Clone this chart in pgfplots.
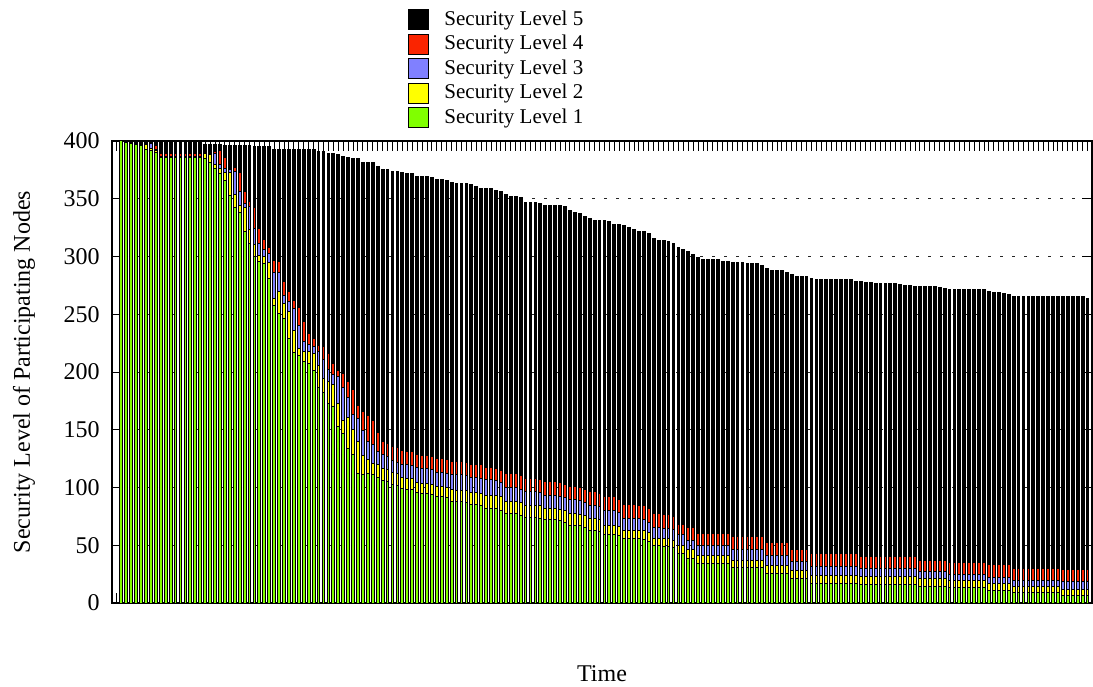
\documentclass[border=0pt]{standalone}
\usepackage{fontspec}
\setmainfont{Liberation Serif}
\usepackage{pgfplots}
\usepackage{pgfplotstable}
\pgfplotsset{compat=1.18}
\definecolor{lvA}{RGB}{128,255,0}
\definecolor{lvB}{RGB}{255,255,0}
\definecolor{lvC}{RGB}{128,128,255}
\definecolor{lvD}{RGB}{250,36,0}
\definecolor{lvE}{RGB}{0,0,0}
\pgfplotstableread{
x l1 l2 l3 l4 l5
1 400 0 0 0 0
2 398.5 0 0 0 1
3 398 0 0 0 1.5
4 397 0 0 0 2.5
5 396 0 0 0 3.5
6 393 4 0 0 2.5
7 391.5 2 4 0 2
8 390 2 1 3.5 3
9 386 0.5 0.5 2.5 10
10 386 0.5 0.5 2.5 10
11 386 0.5 0.5 2.5 10
12 386 0.5 0.5 2.5 10
13 386 0.5 0.5 2.5 10
14 386 0.5 0.5 2.5 10
15 386 0.5 0.5 2.5 10
16 386 0.5 0.5 2.5 10
17 386 0.5 0.5 2.5 9.5
18 385 4 0 1 7
19 381 7 1 1 7
20 376 4 9 2 6
21 372 4 4 12 5
22 366 7 3 10 10.5
23 353 20 2 1.5 20
24 342 12 20 3 19.5
25 338 6 12 17 23.5
26 322 20 4 10 40.5
27 311 12 20 4.5 49
28 300 10 14 18 53
29 296 5 10 13 71
30 294 6 6 8.5 80.5
31 281 14 8 5 87
32 258 6 22 10.5 96.5
33 251 19 16 10 97
34 246 13.5 7 12 114.5
35 229 23 9 9 123
36 217 19 19 7 131
37 214 6 20 16 136.5
38 209 9 8.5 17 149
39 207.5 10 6 10 159
40 201 15 6 7 163.5
41 187 19 12 5 168
42 182 12 17 11 169
43 173 19 10 14 173.5
44 170 19 9 9 182.5
45 153 20 23 5 187
46 147 11 29 12 188
47 134 27 17 14 193.5
48 129 21 13 22 199.5
49 112 28 20 11 213.5
50 111 17 21 17 215
51 112 12 16 22 219
52 111 10 16 21 223
53 108.5 11.5 11.6 15.9 230.5
54 106 10.5 12 11.5 235
55 105 10.5 11.5 11 237
56 102.5 10.5 10 12.5 238
57 101.5 10.5 10 12.5 239
58 99 9.5 11.5 12 241
59 98.7 9.3 11.5 12.1 240.4
60 98.2 9.3 11.5 12 241
61 95.5 8.5 13 11.5 240.5
62 95 8.6 13 11.4 241
63 95 8.5 13 11.5 241
64 94 8.5 13 11.5 241.5
65 92 8.7 12.3 12.5 241.5
66 92 8.7 12.3 12.5 241
67 91 9 12.5 12 241
68 88 10 13 11.5 241.5
69 87.7 10.1 13.2 11.3 241.2
70 87.7 10.1 13.2 11.3 241.2
71 87 10 13 11.5 242
72 85.4 10.4 12.7 11.8 241.7
73 85.4 10.4 12.7 11.8 240.2
74 84.5 10.5 13 11.5 239.5
75 82 11.5 13 10.5 242
76 82 11.5 13 10.5 242
77 81.5 11.5 13 10.5 240.5
78 80.5 11.5 12 11 241
79 77.6 10.7 11.5 11.9 241.8
80 77.6 10.7 11.5 11.9 240.3
81 77.6 10.7 11.5 11.9 240.3
82 76 11 11.5 11.5 241.5
83 73.9 10.9 11.6 11.6 239
84 73.9 10.9 11.6 11.6 239
85 73.9 10.9 11.6 11.6 239
86 73 11 11.5 11.5 239
87 71.9 10.1 11.5 11.5 239
88 71.9 10.1 11.5 11.5 239
89 71.9 10.1 11.5 11.5 239
90 71 10 11.5 11.5 240
91 70 10 11.5 11.5 240
92 67.5 10.1 11.6 11.5 239.3
93 67.5 10.1 11.6 11.5 237.3
94 67 10 11.5 11.5 237.5
95 65.5 10 11.5 11.5 236.5
96 63.2 10.1 11.5 11.6 236.6
97 63.2 10.1 11.5 11.6 234.6
98 62 10 11.5 11.5 236
99 58.9 8.6 12.2 12.1 239.2
100 58.9 8.6 12.2 12.1 238.2
101 58.9 8.6 12.2 12.1 235.7
102 58.5 8 11.5 12 237.3
103 56 7.2 10.1 12.4 241.3
104 56 7.2 10.1 12.4 239.3
105 56 7.2 10.1 12.4 237.8
106 55.5 7.7 9.6 11.7 237.5
107 55.2 8 9.3 11.5 238
108 53.5 7.5 9 12 238
109 49.4 6.6 9.2 12.4 238.4
110 49.4 6.6 9.2 12.4 236.6
111 49.2 6.5 9 12.3 237
112 49 6.5 9 12 236.3
113 48 6.5 9 11.5 236
114 43 7.2 8.8 9.4 239.6
115 43 7.2 8.8 9.4 237.6
116 38.7 7.3 8.5 10.5 239
117 38.7 7.3 8.5 10.5 237
118 34.4 6.3 8.7 10.9 238.7
119 34.4 6.3 8.7 10.9 237.2
120 34.4 6.3 8.7 10.9 237.2
121 34.4 6.3 8.7 10.9 236.7
122 34.4 6.3 8.7 10.9 236.7
123 34.4 6.3 8.7 10.9 235.7
124 34.4 6.3 8.7 10.9 235.7
125 30.9 6.3 9.3 11.5 237
126 30.9 6.3 9.3 11.5 237
127 30.9 6.3 9.3 11.5 237
128 30.9 6.3 9.3 11.5 236
129 30.9 6.3 9.3 11.5 236
130 30.9 6.3 9.3 11.5 236
131 30.9 6.3 9.3 11.5 234
132 25.7 7.2 7.8 11.3 238
133 25.7 7.2 7.8 11.3 236
134 25.7 7.2 7.8 11.3 236
135 25.7 7.2 7.8 11.3 236
136 25.7 7.2 7.8 11.3 234.5
137 21.4 6.6 7.8 10.7 237.5
138 21.4 6.6 7.8 10.7 236.5
139 21.4 6.6 7.8 10.7 236.5
140 21.4 6.6 7.8 10.7 236.5
141 17 7.2 7.8 11 238
142 17 7.2 7.8 11 237
143 17 7.2 7.8 11 237
144 17 7.2 7.8 11 237
145 17 7.2 7.8 11 237
146 17 7.2 7.8 11 237
147 17 7.2 7.8 11 237
148 17 7.2 7.8 11 237
149 17 7.2 7.8 11 237
150 17 7.2 7.8 11 235.5
151 16.3 6.5 7.2 10.5 237.5
152 16.3 6.5 7.2 10.5 237.1
153 16.3 6.5 7.2 10.5 237.1
154 16.3 6.5 7.2 10.5 236.5
155 16.3 6.5 7.2 10.5 236.5
156 16.3 6.5 7.2 10.5 236.5
157 16.3 6.5 7.2 10.5 236.5
158 16.3 6.5 7.2 10.5 236.5
159 16.3 6.5 7.2 10.5 235.5
160 16.3 6.5 7.2 10.5 234.5
161 16.3 6.5 7.2 10.5 234.2
162 16.3 6.5 7.2 10.5 233.3
163 14.5 6.5 6 9.5 237.3
164 14.5 6.5 6 9.5 237.3
165 14.5 6.5 6 9.5 237.3
166 14.5 6.5 6 9.5 237.3
167 14.5 6.5 6 9.5 236.5
168 14.5 6.5 6 9.5 235.9
169 13 6.5 5.5 10 236.5
170 13 6.5 5.5 10 236
171 13 6.5 5.5 10 236
172 13 6.5 5.5 10 236
173 13 6.5 5.5 10 236
174 13 6.5 5.5 10 236
175 13 6.5 5.5 10 236
176 13 6.5 5.5 10 236
177 11 5.5 6 10.5 237
178 11 5.5 6 10.5 236
179 11 5.5 6 10.5 236
180 11 5.5 6 10.5 235
181 11 5.5 6 10.5 234
182 8.9 5.1 5.9 10.1 235.8
183 8.9 5.1 5.9 10.1 235.8
184 8.9 5.1 5.9 10.1 235.8
185 8.9 5.1 5.9 10.1 235.8
186 8.9 5.1 5.9 10.1 235.8
187 8.9 5.1 5.9 10.1 235.8
188 8.9 5.1 5.9 10.1 235.8
189 8.9 5.1 5.9 10.1 235.8
190 8.9 5.1 5.9 10.1 235.8
191 8.9 5.1 5.9 10.1 235.8
192 6.8 5.2 6.4 10.2 236.4
193 6.8 5.2 6.4 10.2 236.4
194 6.8 5.2 6.4 10.2 236.4
195 6.8 5.2 6.4 10.2 236.4
196 6.8 5.2 6.4 10.2 236.4
197 6.8 5.2 6.4 10.2 235.1
}\data

\begin{document}
\begin{tikzpicture}
\path[use as bounding box] (-56pt,-41.5pt) rectangle (490.5pt,301.5pt);
\begin{axis}[
  at={(0pt,0pt)}, anchor=south west,
  scale only axis, width=490pt, height=231pt,
  ybar stacked, bar width=0.57,
  xmin=-0.9, xmax=197.9, ymin=0, ymax=400,
  xtick={0,...,197}, xticklabels={,,},
  ytick={0,50,...,400},
  ymajorgrids,
  grid style={dash pattern=on 1.5pt off 4.5pt, line width=0.5pt, black!85},
  major tick length=5pt,
  tick style={black, line width=0.5pt},
  tick align=inside,
  axis line style={line width=1pt},
  /pgf/number format/assume math mode=true,
  tick label style={font=\fontsize{12}{14}\selectfont},
  yticklabel style={anchor=east, inner sep=0pt, xshift=-6pt},
  label style={font=\fontsize{12}{14}\selectfont},
  xlabel={Time},
  x label style={at={(axis description cs:0.5,0)}, anchor=center, yshift=-35.5pt},
  ylabel={Security Level of Participating Nodes},
  y label style={at={([xshift=-44pt]axis description cs:0,0.5)}, anchor=center},
  every axis plot/.append style={draw=black, line width=0.5pt},
  legend image code/.code={\draw[#1, draw=black, line width=0.5pt] (0pt,-5pt) rectangle (10pt,5pt);},
  reverse legend,
  legend style={at={(axis description cs:0.296,1.2945)}, anchor=north west,
    draw=none, fill=none, font=\fontsize{10.5}{12}\selectfont,
    row sep=1.75pt,
    nodes={inner sep=0pt, text height=7.5pt, text depth=2pt},
    /tikz/every odd column/.append style={column sep=7.5pt}},
  legend cell align=left,
]
\addplot[fill=lvA] table[x=x,y=l1]{\data};
\addplot[fill=lvB] table[x=x,y=l2]{\data};
\addplot[fill=lvC] table[x=x,y=l3]{\data};
\addplot[fill=lvD] table[x=x,y=l4]{\data};
\addplot[fill=lvE] table[x=x,y=l5]{\data};
\legend{Security Level 1,Security Level 2,Security Level 3,Security Level 4,Security Level 5}
\end{axis}
\end{tikzpicture}
\end{document}
